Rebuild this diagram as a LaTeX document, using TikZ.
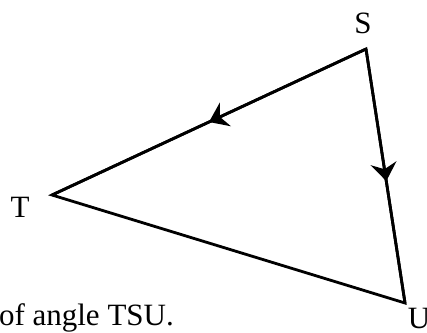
\documentclass[tikz,border=0pt]{standalone}
\usepackage{fontspec}
\setmainfont{Liberation Serif}
\usetikzlibrary{arrows.meta,decorations.markings}
\begin{document}
\begin{tikzpicture}[x=1pt,y=-1pt,
  edge/.style={line width=2.8pt},
  midarrow/.style={edge,postaction={decorate},decoration={markings,
    mark=at position #1 with {\arrow{Stealth[length=18pt,width=26pt,inset=6pt]}}}},
  lbl/.style={font=\fontsize{31}{37}\selectfont,inner sep=0pt,anchor=base}]
\useasboundingbox (0,0) rectangle (427,332);
\coordinate (S) at (366,49);
\coordinate (T) at (52,195);
\coordinate (U) at (405,303);
\draw[edge,line join=miter] (T) -- (S) -- (U) -- cycle;
\draw[midarrow=0.5] (S) -- (T);
\draw[midarrow=0.52] (S) -- (U);
\node[lbl] (lS) at (363,33) {S};
\node[lbl] (lT) at (20,217) {T};
\node[lbl] (lU) at (419,328) {U};
\node[lbl,anchor=base east] (cap) at (174,325) {of angle TSU.};
\end{tikzpicture}
\end{document}
